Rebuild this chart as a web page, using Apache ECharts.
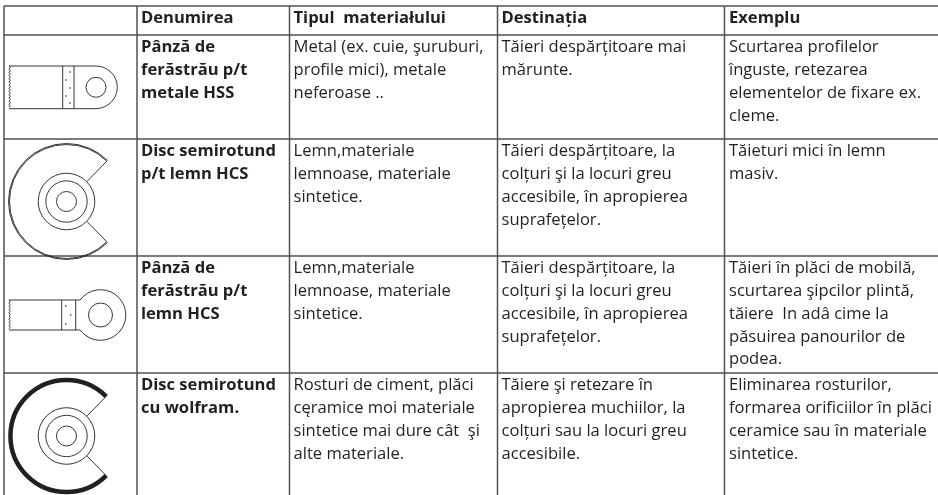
<!DOCTYPE html>
<html>
<head>
<meta charset="utf-8">
<script src="https://cdn.jsdelivr.net/npm/echarts@6/dist/echarts.min.js"></script>
<style>
html, body { margin: 0; padding: 0; background: #fff; }
#main { width: 938px; height: 495px; }
</style>
</head>
<body>
<div id="main"></div>
<script>
// table content
var headers = ['', 'Denumirea', 'Tipul  materiałului', 'Destinația', 'Exemplu'];
var names = [
    ['Pânză de', 'ferăstrău p/t', 'metale HSS'],
    ['Disc semirotund', 'p/t lemn HCS'],
    ['Pânză de', 'ferăstrău p/t', 'lemn HCS'],
    ['Disc semirotund', 'cu wolfram.']
];
var materials = [
    ['Metal (ex. cuie, şuruburi,', 'profile mici), metale', 'neferoase ..'],
    ['Lemn,materiale', 'lemnoase, materiale', 'sintetice.'],
    ['Lemn,materiale', 'lemnoase, materiale', 'sintetice.'],
    ['Rosturi de ciment, plăci', 'cęramice moi materiale', 'sintetice mai dure cât  şi', 'alte materiale.']
];
var purposes = [
    ['Tăieri despărțitoare mai', 'mărunte.'],
    ['Tăieri despărțitoare, la', 'colțuri şi la locuri greu', 'accesibile, în apropierea', 'suprafețelor.'],
    ['Tăieri despărțitoare, la', 'colțuri şi la locuri greu', 'accesibile, în apropierea', 'suprafețelor.'],
    ['Tăiere şi retezare în', 'apropierea muchiilor, la', 'colțuri sau la locuri greu', 'accesibile.']
];
var examples = [
    ['Scurtarea profilelor', 'înguste, retezarea', 'elementelor de fixare ex.', 'cleme.'],
    ['Tăieturi mici în lemn', 'masiv.'],
    ['Tăieri în plăci de mobilă,', 'scurtarea şipcilor plintă,', 'tăiere  In adâ cime la', 'păsuirea panourilor de', 'podea.'],
    ['Eliminarea rosturilor,', 'formarea orificiilor în plăci', 'ceramice sau în materiale', 'sintetice.']
];
var iconKinds = ['bladeSmall', 'disc', 'bladeRound', 'discThick'];

// layout, in page pixels
var W = 938, H = 495;
var colEdges = [4, 137, 289.5, 497.5, 724.5];
var rowEdges = [6, 35, 139, 256, 373];
var textX = [0, 141, 293.5, 501.5, 729];
var fontFamily = '"Open Sans", sans-serif';
var fontSize = 16;
var textStretch = 1.035;
var lineStep = 22.8;
var ink = '#231f20';

var gridLines = [];
colEdges.forEach(function (x) { gridLines.push([x, rowEdges[0], x, H]); });
rowEdges.forEach(function (y) { gridLines.push([colEdges[0], y, W, y]); });

var textRows = [];
headers.forEach(function (h, c) {
    if (h) textRows.push([textX[c], 18, h, 1]);
});
[names, materials, purposes, examples].forEach(function (col, c) {
    col.forEach(function (lines, r) {
        lines.forEach(function (t, i) {
            textRows.push([textX[c + 1], rowEdges[r + 1] + 12.7 + i * lineStep, t, c === 0 ? 1 : 0]);
        });
    });
});

function drawGridLine(params, api) {
    var a = api.coord([api.value(0), api.value(1)]);
    var b = api.coord([api.value(2), api.value(3)]);
    return {
        type: 'line',
        shape: { x1: a[0], y1: a[1], x2: b[0], y2: b[1] },
        style: { stroke: '#505153', lineWidth: 1.5 }
    };
}

function drawText(params, api) {
    var p = api.coord([api.value(0), api.value(1)]);
    var bold = api.value(3);
    return {
        type: 'text',
        x: p[0],
        y: p[1],
        scaleX: textStretch,
        style: {
            text: textRows[params.dataIndex][2],
            x: 0,
            y: 0,
            verticalAlign: 'middle',
            fill: ink,
            font: (bold ? 'bold ' : '') + fontSize + 'px ' + fontFamily
        }
    };
}

function drawIcon(params, api) {
    var kind = iconKinds[params.dataIndex];
    var kids = [];
    function pt(x, y) { return api.coord([x, y]); }
    function stroke(w) { return { fill: 'none', stroke: ink, lineWidth: w || 0.9 }; }
    function line(x1, y1, x2, y2) {
        var a = pt(x1, y1), b = pt(x2, y2);
        kids.push({ type: 'line', shape: { x1: a[0], y1: a[1], x2: b[0], y2: b[1] }, style: stroke() });
    }
    function circle(x, y, r) {
        var c = pt(x, y);
        kids.push({ type: 'circle', shape: { cx: c[0], cy: c[1], r: r }, style: stroke() });
    }
    function arc(x, y, r, from, to, w, ccw) {
        var c = pt(x, y);
        kids.push({
            type: 'arc',
            shape: { cx: c[0], cy: c[1], r: r, startAngle: from, endAngle: to, clockwise: !ccw },
            style: stroke(w)
        });
    }
    function dot(x, y) {
        var c = pt(x, y);
        kids.push({ type: 'circle', shape: { cx: c[0], cy: c[1], r: 0.8 }, style: { fill: ink } });
    }
    function teeth(x, top, bottom) {
        var pts = [], i = 0;
        for (var y = top; y <= bottom; y += 1.6) {
            pts.push(pt(x + (i++ % 2 ? 1.3 : 0), y));
        }
        kids.push({ type: 'polyline', shape: { points: pts }, style: stroke() });
    }
    function disc(cx, cy, r, rimWidth) {
        var a = Math.PI / 4;
        if (rimWidth) {
            arc(cx, cy, r - rimWidth / 2, -a, a, rimWidth, true);
        } else {
            arc(cx, cy, r, -a, a, 0.9, true);
            arc(cx, cy, r - 1, -a, a, 0.9, true);
        }
        line(cx + (r - 1) * Math.SQRT1_2, cy - (r - 1) * Math.SQRT1_2, cx + 20.5, cy - 20);
        line(cx + (r - 1) * Math.SQRT1_2, cy + (r - 1) * Math.SQRT1_2, cx + 20.5, cy + 20);
        circle(cx, cy, 28.3);
        circle(cx, cy, 20.7);
        circle(cx, cy, 10);
    }

    if (kind === 'bladeSmall') {
        line(9, 66, 96, 66);
        line(9, 108.7, 96, 108.7);
        arc(96, 87.3, 21.3, -Math.PI / 2, Math.PI / 2);
        teeth(9, 66, 108.7);
        line(62.7, 66, 62.7, 108.7);
        line(74, 66, 74, 108.7);
        circle(96, 87.3, 10);
        dot(70, 72); dot(66, 80); dot(70, 88); dot(66, 96); dot(70, 103);
    } else if (kind === 'bladeRound') {
        var a = Math.atan2(15, 20.5);
        line(9, 300, 80, 300);
        line(9, 330, 80, 330);
        arc(100.5, 315, 25.3, -Math.PI + a, Math.PI - a);
        teeth(9, 300, 330);
        line(61.7, 300, 61.7, 330);
        line(75.7, 300, 75.7, 330);
        circle(100.5, 315, 12);
        dot(65.7, 306); dot(70.7, 315); dot(65.7, 324);
    } else if (kind === 'disc') {
        disc(66.5, 201.5, 58);
    } else {
        disc(66.5, 436, 58.3, 4.5);
    }
    return { type: 'group', children: kids };
}

var myChart = echarts.init(document.getElementById('main'));
var option = {
    animation: false,
    backgroundColor: '#fff',
    grid: { left: 0, right: 0, top: 0, bottom: 0 },
    xAxis: { type: 'value', min: 0, max: W, show: false },
    yAxis: { type: 'value', min: 0, max: H, inverse: true, show: false },
    series: [
        { type: 'custom', name: 'lines', data: gridLines, renderItem: drawGridLine, silent: true },
        { type: 'custom', name: 'icons', data: iconKinds.map(function (k, i) { return [i, 0]; }), renderItem: drawIcon, silent: true },
        {
            type: 'custom',
            name: 'text',
            data: textRows.map(function (d) { return [d[0], d[1], 0, d[3]]; }),
            renderItem: drawText,
            silent: true
        }
    ]
};
myChart.setOption(option);
</script>
</body>
</html>
